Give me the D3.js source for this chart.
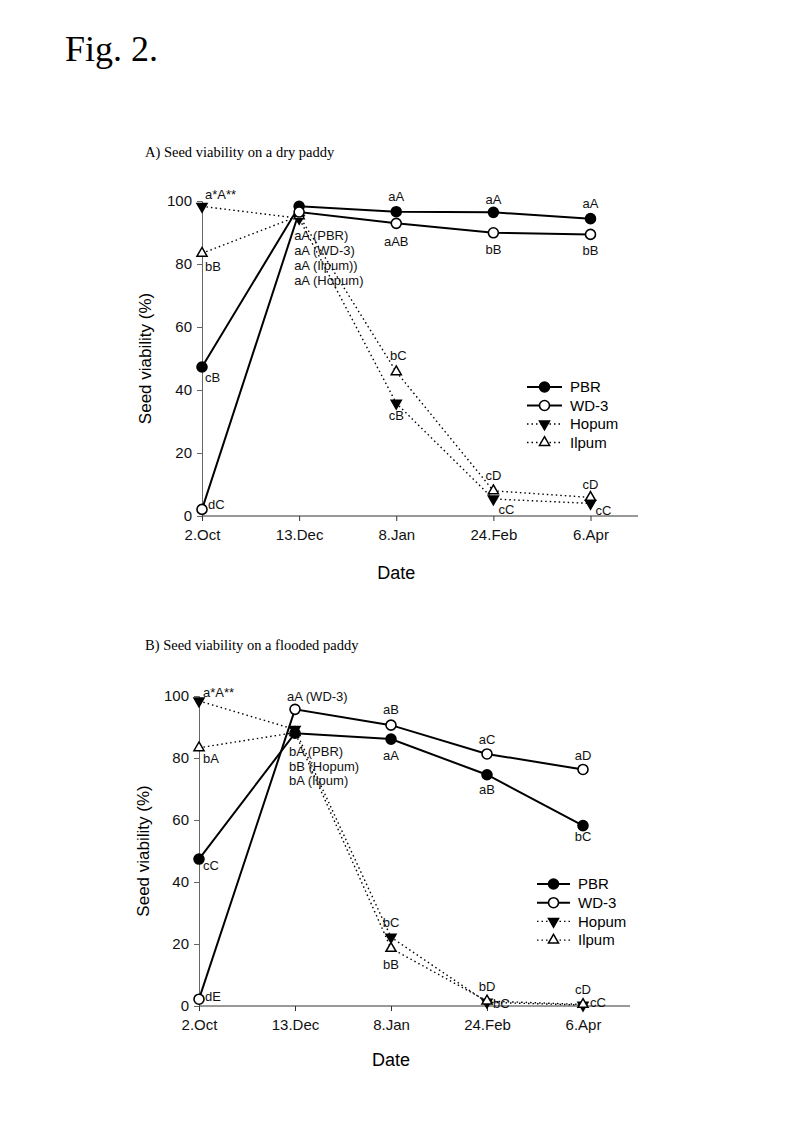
<!DOCTYPE html>
<html>
<head>
<meta charset="utf-8">
<script src="https://cdn.jsdelivr.net/npm/d3@7"></script>
<style>
  html, body { margin: 0; padding: 0; background: #fff; }
  svg { display: block; }
</style>
</head>
<body>
<script>
// ---------- DATA ----------
const dates = ["2.Oct", "13.Dec", "8.Jan", "24.Feb", "6.Apr"];
const yTicks = [0, 20, 40, 60, 80, 100];
const seriesNames = ["PBR", "WD-3", "Hopum", "Ilpum"];

// Panel A: dry paddy
const dryPBR   = [47.3, 98.3, 96.6, 96.4, 94.4];
const dryWD3   = [2.1, 96.5, 92.9, 89.9, 89.4];
const dryHopum = [98.3, 94.5, 35.8, 5.4, 4.0];
const dryIlpum = [83.4, 95.3, 45.8, 8.0, 5.9];

// Panel B: flooded paddy
const fldPBR   = [47.4, 88.0, 86.1, 74.6, 58.2];
const fldWD3   = [2.2, 95.7, 90.6, 81.3, 76.3];
const fldHopum = [98.4, 89.2, 22.2, 1.2, 0.3];
const fldIlpum = [83.3, 88.2, 18.6, 1.6, 0.5];

// Annotation texts: [series, date index, text]
const dryLabels = [
  ["Hopum", 0, "a*A**"], ["Ilpum", 0, "bB"], ["PBR", 0, "cB"], ["WD-3", 0, "dC"],
  ["PBR", 1, "aA (PBR)"], ["PBR", 1, "aA (WD-3)"], ["PBR", 1, "aA (Ilpum))"], ["PBR", 1, "aA (Hopum)"],
  ["PBR", 2, "aA"], ["WD-3", 2, "aAB"], ["Ilpum", 2, "bC"], ["Hopum", 2, "cB"],
  ["PBR", 3, "aA"], ["WD-3", 3, "bB"], ["Ilpum", 3, "cD"], ["Hopum", 3, "cC"],
  ["PBR", 4, "aA"], ["WD-3", 4, "bB"], ["Ilpum", 4, "cD"], ["Hopum", 4, "cC"]
];
const fldLabels = [
  ["Hopum", 0, "a*A**"], ["Ilpum", 0, "bA"], ["PBR", 0, "cC"], ["WD-3", 0, "dE"],
  ["WD-3", 1, "aA (WD-3)"], ["PBR", 1, "bA (PBR)"], ["PBR", 1, "bB (Hopum)"], ["PBR", 1, "bA (Ilpum)"],
  ["WD-3", 2, "aB"], ["PBR", 2, "aA"], ["Hopum", 2, "bC"], ["Ilpum", 2, "bB"],
  ["WD-3", 3, "aC"], ["PBR", 3, "aB"], ["Ilpum", 3, "bD"], ["Hopum", 3, "bC"],
  ["WD-3", 4, "aD"], ["PBR", 4, "bC"], ["Ilpum", 4, "cD"], ["Hopum", 4, "cC"]
];

// ---------- LAYOUT (pixel offsets of labels relative to their anchor point) ----------
const dryOffsets = [
  [3, -12, "start"], [3, 13, "start"], [3, 10, "start"], [6, -5, "start"],
  [-5, 29, "start"], [-5, 44, "start"], [-5, 59, "start"], [-5, 74, "start"],
  [0, -15, "middle"], [0, 18, "middle"], [2, -16, "middle"], [0, 12, "middle"],
  [0, -13, "middle"], [0, 17, "middle"], [0, -15, "middle"], [5, 10, "start"],
  [0, -15, "middle"], [0, 16, "middle"], [0, -13, "middle"], [5, 7, "start"]
];
const fldOffsets = [
  [4, -9, "start"], [4, 11, "start"], [4, 6, "start"], [6, -3, "start"],
  [-8, -13, "start"], [-6, 18, "start"], [-6, 33, "start"], [-6, 47, "start"],
  [0, -16, "middle"], [0, 16, "middle"], [0, -15, "middle"], [0, 16, "middle"],
  [0, -15, "middle"], [0, 15, "middle"], [0, -15, "middle"], [6, 1, "start"],
  [0, -14, "middle"], [0, 11, "middle"], [0, -15, "middle"], [7, -3, "start"]
];

const W = 800, H = 1132;
const svg = d3.select("body").append("svg").attr("width", W).attr("height", H)
  .style("font-family", "'Liberation Sans', Arial, sans-serif");

svg.append("text").attr("x", 65).attr("y", 61)
  .style("font-family", "'Liberation Serif', 'Times New Roman', serif")
  .style("font-size", "36px").text("Fig. 2.");

const styles = {
  "PBR":   { dash: null, sym: "circle", fill: "#000" },
  "WD-3":  { dash: null, sym: "circle", fill: "#fff" },
  "Hopum": { dash: "1.5,3", sym: "down", fill: "#000" },
  "Ilpum": { dash: "1.5,3", sym: "up", fill: "#fff" }
};

function drawMarker(g, sym, fill, x, y) {
  if (sym === "circle") {
    g.append("circle").attr("cx", x).attr("cy", y).attr("r", 5)
      .attr("fill", fill).attr("stroke", "#000").attr("stroke-width", 1.6);
  } else {
    g.append("path").attr("d", d3.symbol(d3.symbolTriangle, 44)())
      .attr("transform", `translate(${x},${y})` + (sym === "down" ? " rotate(180)" : ""))
      .attr("fill", fill).attr("stroke", "#000").attr("stroke-width", 1.5);
  }
}

function panel(cfg) {
  const x = d3.scaleLinear().domain([0, dates.length - 1]).range([cfg.x0, cfg.x4]);
  const y = d3.scaleLinear().domain([0, 100]).range([cfg.yb, cfg.yt]);
  const g = svg.append("g");

  g.append("text").attr("x", 145).attr("y", cfg.titleY)
    .style("font-family", "'Liberation Serif', 'Times New Roman', serif")
    .style("font-size", "14.5px").text(cfg.title);

  // y axis
  const ya = g.append("g").attr("transform", `translate(${cfg.x0},0)`)
    .call(d3.axisLeft(y).tickValues(yTicks).tickSize(5).tickPadding(5));
  ya.select(".domain").attr("stroke", "#666");
  ya.selectAll(".tick line").attr("stroke", "#666");
  ya.selectAll(".tick text").style("font-size", "15px").attr("fill", "#111")
    .style("font-family", "'Liberation Sans', Arial, sans-serif");

  // x axis
  const xa = g.append("g").attr("transform", `translate(0,${cfg.yb})`)
    .call(d3.axisBottom(x).tickValues(d3.range(dates.length)).tickFormat(i => dates[i])
      .tickSize(5).tickPadding(8).tickSizeOuter(0));
  xa.select(".domain").attr("d", `M${cfg.x0},0H${cfg.xEnd}`).attr("stroke", "#333");
  xa.selectAll(".tick line").attr("stroke", "#333");
  xa.selectAll(".tick text").style("font-size", "15px").attr("fill", "#111")
    .style("font-family", "'Liberation Sans', Arial, sans-serif");

  // axis titles
  g.append("text").attr("transform", `translate(${cfg.ylabX},${(cfg.yb + cfg.yt) / 2}) rotate(-90)`)
    .attr("text-anchor", "middle").attr("dy", "0.35em").style("font-size", "17px")
    .text("Seed viability (%)");
  g.append("text").attr("x", x(2)).attr("y", cfg.dateY).attr("text-anchor", "middle")
    .attr("dy", "0.35em").style("font-size", "18px").text("Date");

  const data = cfg.data;
  const line = d3.line().x((d, i) => x(i)).y(d => y(d));
  // dotted series first, then solid
  ["Hopum", "Ilpum", "PBR", "WD-3"].forEach(name => {
    const st = styles[name];
    g.append("path").attr("d", line(data[name])).attr("fill", "none")
      .attr("stroke", "#000").attr("stroke-width", st.dash ? 1.4 : 2)
      .attr("stroke-dasharray", st.dash);
  });
  ["Hopum", "Ilpum", "PBR", "WD-3"].forEach(name => {
    const st = styles[name];
    data[name].forEach((v, i) => drawMarker(g, st.sym, st.fill, x(i), y(v)));
  });

  // annotations
  cfg.labels.forEach((lab, k) => {
    const [ser, idx, txt] = lab;
    const [dx, dy, anchor] = cfg.offsets[k];
    g.append("text").attr("x", x(idx) + dx).attr("y", y(data[ser][idx]) + dy)
      .attr("dy", "0.35em").attr("text-anchor", anchor)
      .style("font-size", "13px").attr("fill", "#111").text(txt);
  });

  // legend
  seriesNames.forEach((name, i) => {
    const st = styles[name];
    const ly = cfg.legY + i * cfg.legStep;
    g.append("line").attr("x1", cfg.legX1).attr("x2", cfg.legX2).attr("y1", ly).attr("y2", ly)
      .attr("stroke", "#000").attr("stroke-width", st.dash ? 1.4 : 2)
      .attr("stroke-dasharray", st.dash);
    drawMarker(g, st.sym, st.fill, (cfg.legX1 + cfg.legX2) / 2, ly);
    g.append("text").attr("x", cfg.legX2 + 8).attr("y", ly).attr("dy", "0.35em")
      .style("font-size", "15px").text(name);
  });
}

panel({
  title: "A) Seed viability on a dry paddy", titleY: 157,
  x0: 202, x4: 590.5, xEnd: 638, yb: 516, yt: 201, ylabX: 145, dateY: 573,
  data: { "PBR": dryPBR, "WD-3": dryWD3, "Hopum": dryHopum, "Ilpum": dryIlpum },
  labels: dryLabels, offsets: dryOffsets,
  legX1: 527, legX2: 562, legY: 387, legStep: 18.5
});
panel({
  title: "B) Seed viability on a flooded paddy", titleY: 650,
  x0: 199, x4: 583, xEnd: 630, yb: 1006, yt: 696, ylabX: 143, dateY: 1060,
  data: { "PBR": fldPBR, "WD-3": fldWD3, "Hopum": fldHopum, "Ilpum": fldIlpum },
  labels: fldLabels, offsets: fldOffsets,
  legX1: 537, legX2: 570, legY: 884, legStep: 18.7
});
</script>
</body>
</html>
